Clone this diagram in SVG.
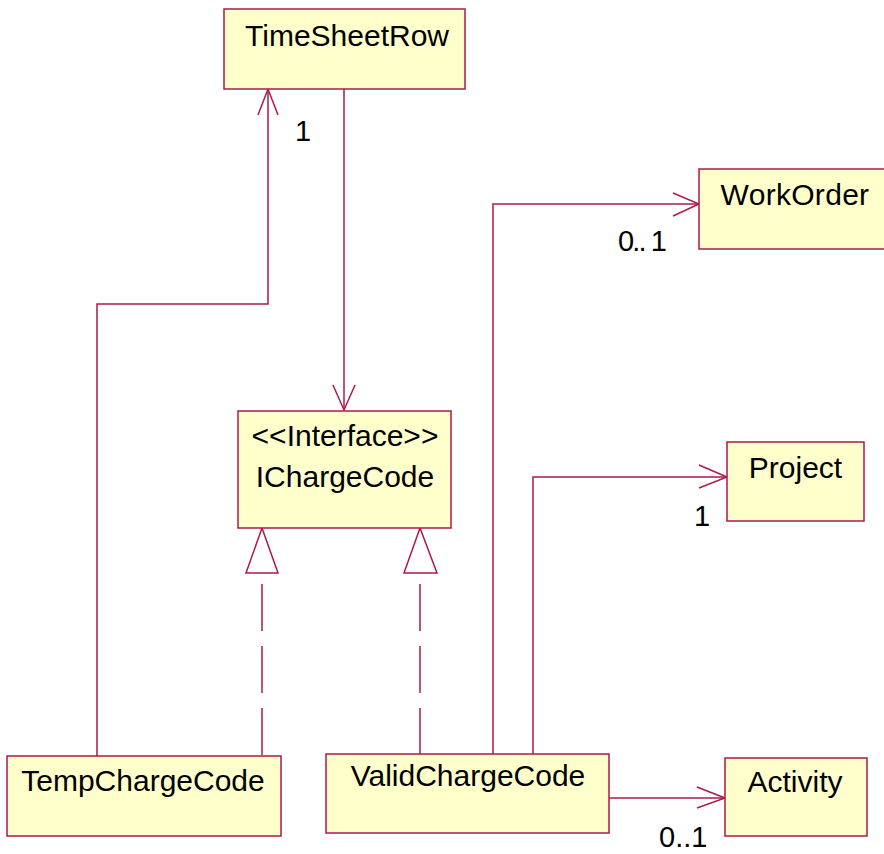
<svg xmlns="http://www.w3.org/2000/svg" width="884" height="854" viewBox="0 0 884 854">
<style>
.box{fill:#FFFFCC;stroke:#B0174A;stroke-width:1.5}
.t{font-family:"Liberation Sans",Arial,sans-serif;font-size:30px;fill:#000;text-anchor:middle}
.lbl{font-family:"Liberation Sans",Arial,sans-serif;font-size:29px;fill:#000}
.c{fill:none;stroke:#B0174A;stroke-width:1.5}
.d{fill:none;stroke:#B0174A;stroke-width:1.5;stroke-dasharray:47 15}
</style>
<rect width="884" height="854" fill="#fff"/>
<g id="connectors">
<polyline class="c" points="97,756 97,304 268,304 268,89"/>
<polyline class="c" points="258,115 268,89 278,115"/>
<line class="c" x1="344" y1="89" x2="344" y2="410"/>
<polyline class="c" points="333,385 344,410 355,385"/>
<line class="d" x1="262" y1="584" x2="262" y2="756"/>
<polygon class="c" points="262,528 246,573 278,573"/>
<line class="d" x1="420" y1="584" x2="420" y2="754"/>
<polygon class="c" points="420,528 404,573 437,573"/>
<polyline class="c" points="493,754 493,204 699,204"/>
<polyline class="c" points="673,193 699,204 673,216"/>
<polyline class="c" points="533,754 533,477 727,477"/>
<polyline class="c" points="699,465 727,477 699,488"/>
<line class="c" x1="609" y1="798" x2="725" y2="798"/>
<polyline class="c" points="697,787 725,798 697,808"/>
<text class="lbl" x="295" y="141">1</text>
<text class="lbl" x="618" y="251" textLength="49" lengthAdjust="spacing">0.. 1</text>
<text class="lbl" x="694" y="526">1</text>
<text class="lbl" x="659" y="847">0..1</text>
</g>
<g id="TimeSheetRow">
<rect class="box" x="224" y="9" width="241" height="80"/>
<text class="t" x="347" y="46">TimeSheetRow</text>
</g>
<g id="IChargeCode">
<rect class="box" x="238" y="411" width="213" height="117"/>
<text class="t" x="345" y="446">&lt;&lt;Interface&gt;&gt;</text>
<text class="t" x="345" y="487">IChargeCode</text>
</g>
<g id="TempChargeCode">
<rect class="box" x="7" y="756" width="274" height="80"/>
<text class="t" x="143" y="791">TempChargeCode</text>
</g>
<g id="ValidChargeCode">
<rect class="box" x="326" y="754" width="283" height="79"/>
<text class="t" x="468" y="786">ValidChargeCode</text>
</g>
<g id="WorkOrder">
<rect class="box" x="699" y="169" width="190" height="80"/>
<text class="t" x="795" y="205" letter-spacing="0.3">WorkOrder</text>
</g>
<g id="Project">
<rect class="box" x="727" y="442" width="137" height="79"/>
<text class="t" x="795.5" y="478">Project</text>
</g>
<g id="Activity">
<rect class="box" x="725" y="758" width="142" height="78"/>
<text class="t" x="795" y="792">Activity</text>
</g>
</svg>
